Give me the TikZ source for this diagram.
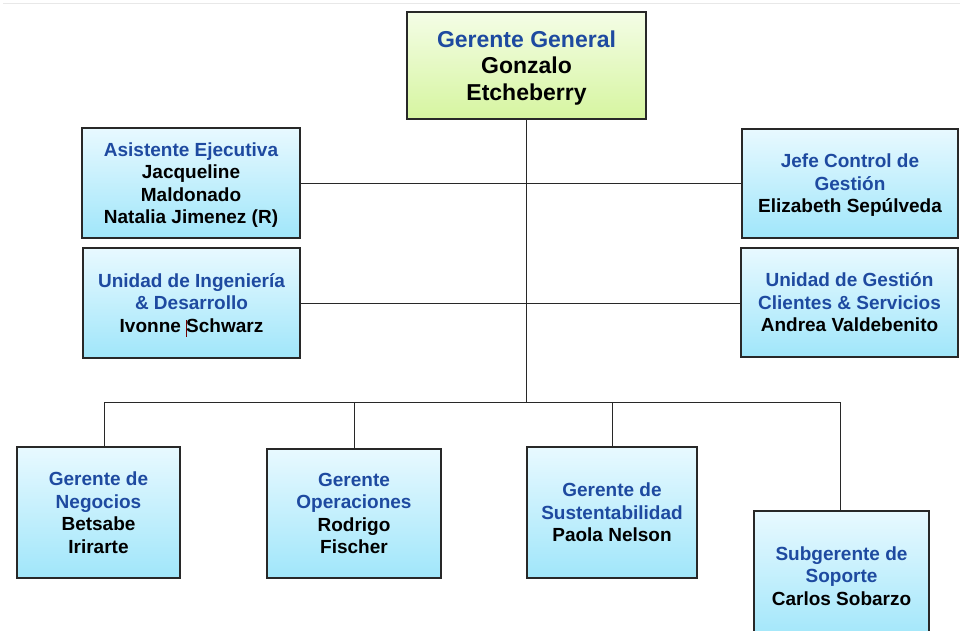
\documentclass[tikz,border=0pt]{standalone}
\usepackage{fontspec}
\setmainfont{Liberation Sans}
\definecolor{titleblue}{RGB}{30,74,160}
\definecolor{edge}{RGB}{40,40,40}
\definecolor{cyantop}{RGB}{232,249,255}
\definecolor{cyanbot}{RGB}{160,230,250}
\definecolor{limetop}{RGB}{244,253,230}
\definecolor{limebot}{RGB}{214,245,160}
\tikzset{
  unitbox/.style={draw=edge, line width=1.4pt, inner sep=0pt, align=center,
    text depth=0pt,
    font=\fontsize{19}{22.5}\selectfont\bfseries,
    top color=cyantop, bottom color=cyanbot},
  headbox/.style={unitbox, top color=limetop, bottom color=limebot,
    font=\fontsize{23}{26.5}\selectfont\bfseries},
  link/.style={draw=edge, line width=1pt},
}
\newcommand{\role}[1]{\textcolor{titleblue}{#1}}
\begin{document}
\begin{tikzpicture}[x=1pt,y=-1pt]
\useasboundingbox (0,0) rectangle (960,630);
\clip (0,0) rectangle (960,630);
% faint rule along the top
\draw[line width=0.8pt, black!9] (3,3) -- (960,3);

% general manager
\node[headbox, minimum width=239pt, minimum height=107pt] (gg) at (526.5,65.5)
  {\role{Gerente General}\\Gonzalo\\Etcheberry};

% staff units
\node[unitbox, minimum width=218pt, minimum height=110pt] (ae) at (191,183)
  {\role{Asistente Ejecutiva}\\Jacqueline\\Maldonado\\Natalia Jimenez (R)};
\node[unitbox, minimum width=217pt, minimum height=110pt] (ui) at (191.5,303)
  {\role{Unidad de Ingeniería}\\\role{\& Desarrollo}\\Ivonne Schwarz};
\node[unitbox, minimum width=216pt, minimum height=109pt] (jc) at (850,183.5)
  {\role{Jefe Control de}\\\role{Gestión}\\Elizabeth Sepúlveda};
\node[unitbox, minimum width=217pt, minimum height=109pt] (ug) at (849.5,302.5)
  {\role{Unidad de Gestión}\\\role{Clientes \& Servicios}\\Andrea Valdebenito};

% line managers
\node[unitbox, minimum width=163pt, minimum height=131pt] (gn) at (98.5,512.5)
  {\role{Gerente de}\\\role{Negocios}\\Betsabe\\Irirarte};
\node[unitbox, minimum width=174pt, minimum height=129pt] (go) at (354,513.5)
  {\role{Gerente}\\\role{Operaciones}\\Rodrigo\\Fischer};
\node[unitbox, minimum width=170pt, minimum height=131pt] (gs) at (612,512.5)
  {\role{Gerente de}\\\role{Sustentabilidad}\\Paola Nelson};
\node[unitbox, minimum width=175pt, minimum height=130pt] (sg) at (841.5,576)
  {\role{Subgerente de}\\\role{Soporte}\\Carlos Sobarzo};

% text caret left in the name
\draw[red!45!black, line width=0.6pt] (186,320) -- (186,337);

% connectors
\coordinate (busL) at (104,402);
\coordinate (busR) at (840,402);
\draw[link] (gg.south) -- (gg.south |- busL);
\draw[link] (ae.east) -- (ae.east -| jc.west);
\draw[link] (ui.east) -- (ui.east -| ug.west);
\draw[link] (busL) -- (busR);
\draw[link] (busL) -- (busL |- gn.north);
\draw[link] (go.north |- busL) -- (go.north);
\draw[link] (gs.north |- busL) -- (gs.north);
\draw[link] (busR) -- (busR |- sg.north);
\end{tikzpicture}
\end{document}
